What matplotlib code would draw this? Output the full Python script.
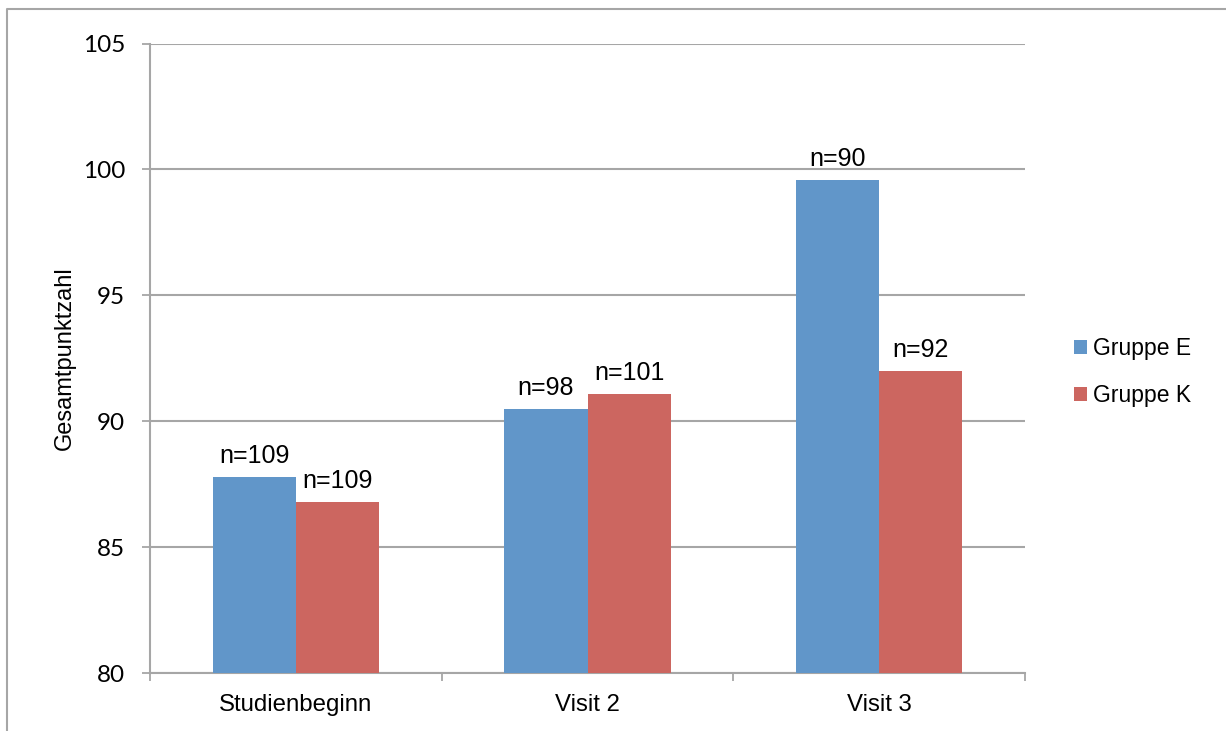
import matplotlib
matplotlib.use("Agg")
import matplotlib.pyplot as plt
from matplotlib.lines import Line2D
import numpy as np

categories = ["Studienbeginn", "Visit 2", "Visit 3"]
series_names = ["Gruppe E", "Gruppe K"]
gruppe_e = [87.77, 90.47, 99.59]
gruppe_k = [86.78, 91.07, 92.0]
labels_e = ["n=109", "n=98", "n=90"]
labels_k = ["n=109", "n=101", "n=92"]
yticks = [80, 85, 90, 95, 100, 105]

col_e = "#6196C9"
col_k = "#CC6660"
grid_col = "#A6A6A6"

plt.rcParams['font.family'] = ['Liberation Sans', 'DejaVu Sans']

fig = plt.figure(figsize=(12.26, 7.31), dpi=100)
ax = fig.add_axes([150/1226, 1-673/731, 875/1226, (673-43.5)/731])

x = np.arange(len(categories))
w = 0.285
b1 = ax.bar(x - w/2, np.array(gruppe_e) - 80, w, bottom=80, color=col_e, label=series_names[0], zorder=3)
b2 = ax.bar(x + w/2, np.array(gruppe_k) - 80, w, bottom=80, color=col_k, label=series_names[1], zorder=3)

for xi, v, t in zip(x - w/2, gruppe_e, labels_e):
    ax.annotate(t, (xi, v), xytext=(0, 6.5), textcoords='offset points', ha='center', va='bottom', fontsize=18, color='black')
for xi, v, t in zip(x + w/2, gruppe_k, labels_k):
    ax.annotate(t, (xi, v), xytext=(0, 6.5), textcoords='offset points', ha='center', va='bottom', fontsize=18, color='black')

ax.set_xlim(-0.5, 2.5)
ax.set_ylim(80, 105)
ax.set_yticks(yticks)
ax.set_yticklabels([str(v) for v in yticks], fontfamily=['Lato', 'DejaVu Sans'], fontsize=17.5)
ax.tick_params(axis='y', length=6, width=1.3, color=grid_col, pad=12)
ax.set_xticks(x)
ax.set_xticklabels(categories, fontsize=17.3)
ax.tick_params(axis='x', which='major', length=0, pad=15)
ax.set_xticks([-0.5, 0.5, 1.5, 2.5], minor=True)
ax.tick_params(axis='x', which='minor', length=6, width=1.3, color=grid_col)

ax.yaxis.grid(True, color=grid_col, linewidth=1.5, zorder=0)
ax.set_axisbelow(True)
for s in ['top', 'right']:
    ax.spines[s].set_visible(False)
for s in ['left', 'bottom']:
    ax.spines[s].set_color(grid_col)
    ax.spines[s].set_linewidth(1.5)

ax.set_ylabel("Gesamtpunktzahl", fontsize=17)
ax.yaxis.set_label_coords((76-150)/875, 0.5)

fig.legend(handles=[b1, b2], labels=series_names, loc='center left',
           bbox_to_anchor=(1053/1226, 1-372/731), frameon=False, fontsize=16.5,
           handlelength=0.6, handleheight=0.6, handletextpad=0.25, labelspacing=1.05)

fig.add_artist(Line2D([7/1226, 7/1226, 1.0], [0, 1-9/731, 1-9/731], transform=fig.transFigure,
                      color=grid_col, linewidth=1.5))

fig.savefig("out.png", dpi=100)
